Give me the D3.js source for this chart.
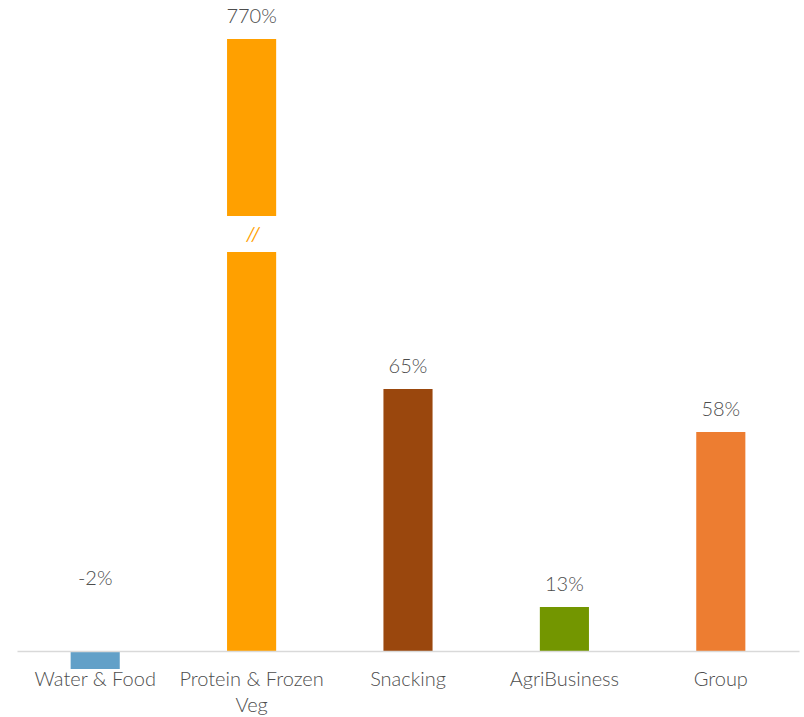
<!DOCTYPE html>
<html>
<head>
<meta charset="utf-8">
<script src="https://cdn.jsdelivr.net/npm/d3@7"></script>
<style>
  html, body { margin: 0; padding: 0; background: #fff; }
  svg { display: block; }
</style>
</head>
<body>
<svg id="chart" width="804" height="717"></svg>
<script>
// ---- data (picture order) ----
const categories = ["Water & Food", "Protein & Frozen Veg", "Snacking", "AgriBusiness", "Group"];
const valueLabels = ["-2%", "770%", "65%", "13%", "58%"];
// plotted bar heights (the Protein bar is drawn with an axis break)
const barValues = [-4.5, 153, 65.5, 11, 54.75];
const barColors = ["#62a0c8", "#ffa000", "#9a470d", "#739600", "#ed7d31"];
const breakRange = [99.75, 108.75]; // gap in the Protein bar (data units)

const svg = d3.select("#chart");
const x = d3.scaleBand().domain(categories).range([17, 799]).paddingInner(0.686).paddingOuter(0.343);
const y = d3.scaleLinear().domain([0, 153]).range([651, 39]);

const font = "Lato, 'Open Sans', sans-serif";
const weight = 300;
const txt = "#4d4d4d";

// bars
svg.selectAll("rect.bar").data(categories).join("rect")
  .attr("class", "bar")
  .attr("x", d => x(d))
  .attr("width", x.bandwidth())
  .attr("y", (d, i) => y(Math.max(0, barValues[i])))
  .attr("height", (d, i) => Math.abs(y(barValues[i]) - y(0)))
  .attr("fill", (d, i) => barColors[i]);

// axis break on the tallest bar
const pc = categories[1];
svg.append("rect")
  .attr("x", x(pc) - 2).attr("width", x.bandwidth() + 4)
  .attr("y", y(breakRange[1])).attr("height", y(breakRange[0]) - y(breakRange[1]))
  .attr("fill", "#fff");
svg.append("text")
  .attr("x", x(pc) + x.bandwidth() / 2 + 2)
  .attr("y", (y(breakRange[0]) + y(breakRange[1])) / 2 + 7)
  .attr("text-anchor", "middle")
  .attr("font-family", font).attr("font-size", 20).attr("font-weight", 400)
  .attr("font-style", "italic")
  .attr("letter-spacing", 1)
  .attr("fill", "#ffa000")
  .text("//");

// baseline axis
const xAxis = d3.axisBottom(x).tickSize(0).tickPadding(0);
const gx = svg.append("g").attr("transform", `translate(0,${y(0)})`).call(xAxis);
gx.select(".domain").attr("stroke", "#d9d9d9").attr("stroke-width", 1.5);
gx.selectAll(".tick text").remove();

// category labels (wrapped)
const lines = {
  "Water & Food": ["Water & Food"],
  "Protein & Frozen Veg": ["Protein & Frozen", "Veg"],
  "Snacking": ["Snacking"],
  "AgriBusiness": ["AgriBusiness"],
  "Group": ["Group"]
};
categories.forEach(c => {
  const t = svg.append("text")
    .attr("x", x(c) + x.bandwidth() / 2)
    .attr("y", 686)
    .attr("text-anchor", "middle")
    .attr("font-family", font).attr("font-size", 20).attr("font-weight", weight)
    .attr("fill", txt);
  lines[c].forEach((l, j) => {
    t.append("tspan").attr("x", x(c) + x.bandwidth() / 2).attr("dy", j === 0 ? 0 : 26).text(l);
  });
});

// value labels
svg.selectAll("text.val").data(categories).join("text")
  .attr("class", "val")
  .attr("x", d => x(d) + x.bandwidth() / 2)
  .attr("y", (d, i) => barValues[i] < 0 ? y(0) - 66 : y(barValues[i]) - 16)
  .attr("text-anchor", "middle")
  .attr("font-family", font).attr("font-size", 20).attr("font-weight", weight)
  .attr("fill", txt)
  .text((d, i) => valueLabels[i]);
</script>
</body>
</html>
